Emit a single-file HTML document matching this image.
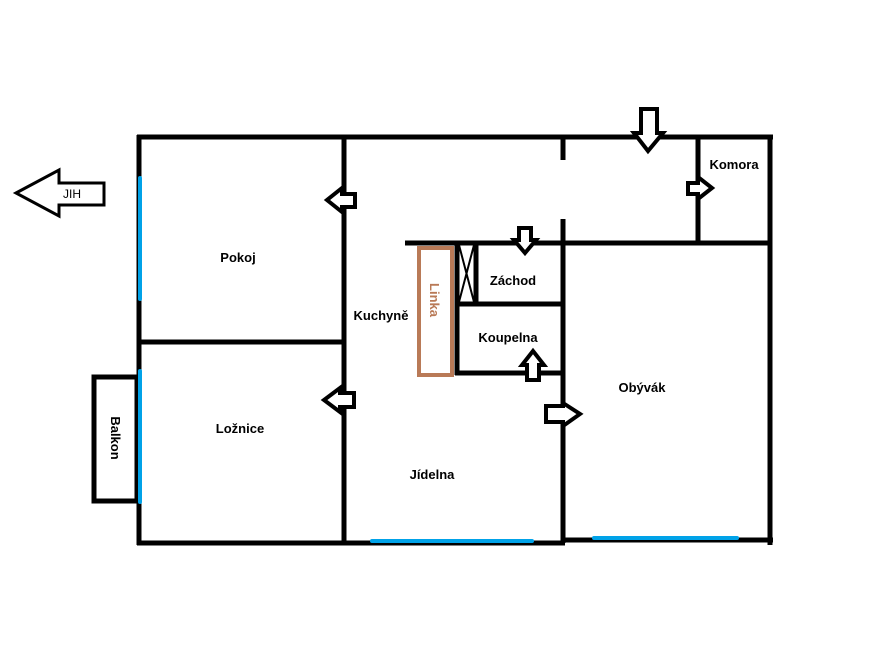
<!DOCTYPE html>
<html><head><style>html,body{margin:0;padding:0;background:#fff}svg{display:block}</style></head><body>
<svg width="876" height="657" viewBox="0 0 876 657" xmlns="http://www.w3.org/2000/svg" font-family="Liberation Sans, sans-serif">
<g stroke="#000" stroke-width="5" fill="none">
<line x1="137" y1="137" x2="773" y2="137"/>
<line x1="139" y1="135" x2="139" y2="545"/>
<line x1="137" y1="543" x2="565" y2="543"/>
<line x1="563" y1="540" x2="773" y2="540"/>
<line x1="770" y1="135" x2="770" y2="545"/>
<line x1="344" y1="137" x2="344" y2="543"/>
<line x1="139" y1="342" x2="344" y2="342"/>
<line x1="563" y1="137" x2="563" y2="160"/>
<line x1="563" y1="219" x2="563" y2="543"/>
<line x1="405" y1="243" x2="770" y2="243"/>
<line x1="698" y1="137" x2="698" y2="243"/>
<line x1="457" y1="243" x2="457" y2="375"/>
<line x1="476" y1="243" x2="476" y2="304"/>
<line x1="457" y1="304" x2="563" y2="304"/>
<line x1="455" y1="373" x2="563" y2="373"/>
<rect x="94" y="377" width="43" height="124"/>
</g>
<g stroke="#000" stroke-width="2">
<line x1="459" y1="245" x2="474" y2="302"/><line x1="474" y1="245" x2="459" y2="302"/>
</g>
<rect x="419" y="248" width="33" height="127" fill="none" stroke="#b97a57" stroke-width="4"/>
<g stroke="#00a2e8" stroke-width="4" stroke-linecap="round">
<line x1="140" y1="178" x2="140" y2="299"/>
<line x1="140" y1="371" x2="140" y2="502"/>
<line x1="372" y1="541" x2="532" y2="541"/>
<line x1="594" y1="538" x2="737" y2="538"/>
</g>
<g stroke="#000" stroke-width="4" fill="#fff" stroke-linejoin="miter">
<polygon points="16,193 59,170 59,183 104,183 104,205 59,205 59,216" stroke-width="3"/>
<polygon points="342,194 355,194 355,207 342,207 342,212 327,200 342,188"/>
<polygon points="340,393 354,393 354,407 340,407 340,412 324,400 340,388"/>
<polygon points="519,228 531,228 531,240 536,240 525,253 514,240 519,240"/>
<polygon points="527,380 539,380 539,365 544,365 533,351 522,365 527,365"/>
<polygon points="546,406 563,406 563,403 580,414 563,426 563,422 546,422"/>
<polygon points="641,109 657,109 657,133 663,133 648,151 634,133 641,133"/>
<polygon points="688,183 698,183 698,177 712,188 698,199 698,194 688,194"/>
</g>
<g font-weight="bold" font-size="13" fill="#000" text-anchor="middle">
<text x="238" y="262">Pokoj</text>
<text x="240" y="433">Ložnice</text>
<text x="381" y="320">Kuchyně</text>
<text x="513" y="285">Záchod</text>
<text x="508" y="342">Koupelna</text>
<text x="642" y="392">Obývák</text>
<text x="432" y="479">Jídelna</text>
<text x="734" y="169">Komora</text>
<text x="0" y="0" transform="translate(111,438) rotate(90)">Balkon</text>
<text x="0" y="0" fill="#b97a57" transform="translate(430,300) rotate(90)">Linka</text>
</g>
<text x="72" y="198" font-size="12" text-anchor="middle" fill="#000">JIH</text>
</svg>
</body></html>
